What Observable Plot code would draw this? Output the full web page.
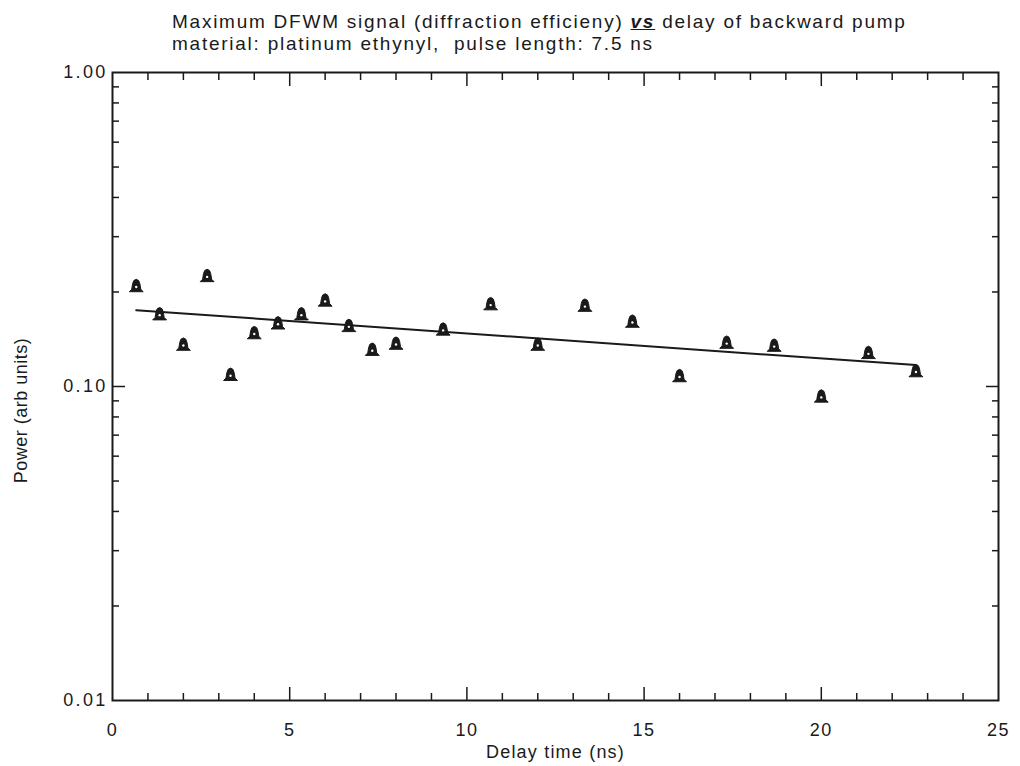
<!DOCTYPE html>
<html>
<head>
<meta charset="utf-8">
<script src="https://cdn.jsdelivr.net/npm/d3@7"></script>
<script src="https://cdn.jsdelivr.net/npm/@observablehq/plot@0.6"></script>
<style>
  html, body { margin: 0; padding: 0; background: #fff; }
  body { width: 1020px; height: 766px; overflow: hidden; font-family: "Liberation Sans", Arial, sans-serif; color: #1a1a1a; }
  #title { height: 56px; box-sizing: border-box; padding: 11px 0 0 172px; font-size: 19px; line-height: 22px; letter-spacing: 1.75px; white-space: nowrap; }
  #title b { font-style: italic; text-decoration: underline; }
  svg { display: block; }
</style>
</head>
<body>
<div id="title">
  <div>Maximum DFWM signal (diffraction efficieny) <b>vs</b> delay of backward pump</div>
  <div>material: platinum ethynyl,&nbsp; pulse length: 7.5 ns</div>
</div>
<div id="chart"></div>
<script>
// Data
const delay = [0.67, 1.33, 2.0, 2.67, 3.33, 4.0, 4.67, 5.33, 6.0, 6.67, 7.33, 8.0, 9.33, 10.67, 12.0, 13.33, 14.67, 16.0, 17.33, 18.67, 20.0, 21.33, 22.67];
const power = [0.209, 0.170, 0.136, 0.225, 0.109, 0.148, 0.159, 0.170, 0.188, 0.156, 0.131, 0.137, 0.152, 0.183, 0.136, 0.181, 0.161, 0.108, 0.138, 0.135, 0.093, 0.128, 0.112];
const fitDelay = [0.67, 22.67];
const fitPower = [0.175, 0.117];

const xTickLabels = [0, 5, 10, 15, 20, 25];
const xMajorTicks = [5, 10, 15, 20];
const xMinorTicks = [1, 2, 3, 4, 6, 7, 8, 9, 11, 12, 13, 14, 16, 17, 18, 19, 21, 22, 23, 24];
const yTickLabels = [0.01, 0.1, 1];
const yMajorTicks = [0.1];
const yMinorTicks = [0.02, 0.03, 0.04, 0.05, 0.06, 0.07, 0.08, 0.09, 0.2, 0.3, 0.4, 0.5, 0.6, 0.7, 0.8, 0.9];
const xTitle = "Delay time (ns)";
const yTitle = "Power (arb units)";

const points = delay.map((d, i) => ({delay: d, power: power[i]}));
const fit = fitDelay.map((d, i) => ({delay: d, power: fitPower[i]}));
const ink = "#1a1a1a";
const blank = () => "";

// bell-shaped marker like the reference's plotted symbol
const bell = {
  draw(context, size) {
    const s = Math.sqrt(size) / 2.2;
    context.moveTo(-1.15 * s, 0.95 * s);
    context.lineTo(1.15 * s, 0.95 * s);
    context.lineTo(0.75 * s, 0.55 * s);
    context.lineTo(0.6 * s, -0.35 * s);
    context.quadraticCurveTo(0.5 * s, -1.05 * s, 0, -1.1 * s);
    context.quadraticCurveTo(-0.5 * s, -1.05 * s, -0.6 * s, -0.35 * s);
    context.lineTo(-0.75 * s, 0.55 * s);
    context.closePath();
  }
};

const chart = Plot.plot({
  width: 1020,
  height: 710,
  marginTop: 16,
  marginBottom: 66,
  marginLeft: 112,
  marginRight: 22,
  style: {fontFamily: "'Liberation Sans', Arial, sans-serif", color: ink, background: "#fff"},
  x: {domain: [0, 25]},
  y: {type: "log", domain: [0.01, 1]},
  marks: [
    // inward ticks
    Plot.axisX(xMinorTicks, {anchor: "bottom", tickSize: -7, tickFormat: blank, label: null, strokeWidth: 1.5}),
    Plot.axisX(xMajorTicks, {anchor: "bottom", tickSize: -13, tickFormat: blank, label: null, strokeWidth: 1.5}),
    Plot.axisX(xMinorTicks, {anchor: "top", tickSize: -7, tickFormat: blank, label: null, strokeWidth: 1.5}),
    Plot.axisX(xMajorTicks, {anchor: "top", tickSize: -13, tickFormat: blank, label: null, strokeWidth: 1.5}),
    Plot.axisY(yMinorTicks, {anchor: "left", tickSize: -7, tickFormat: blank, label: null, strokeWidth: 1.5}),
    Plot.axisY(yMajorTicks, {anchor: "left", tickSize: -13, tickFormat: blank, label: null, strokeWidth: 1.5}),
    Plot.axisY(yMinorTicks, {anchor: "right", tickSize: -7, tickFormat: blank, label: null, strokeWidth: 1.5}),
    Plot.axisY(yMajorTicks, {anchor: "right", tickSize: -13, tickFormat: blank, label: null, strokeWidth: 1.5}),
    // tick labels
    Plot.axisX(xTickLabels, {anchor: "bottom", tickSize: 0, tickPadding: 23, label: null, fontSize: 18, tickFormat: d => String(d)}),
    Plot.axisY(yTickLabels, {anchor: "left", tickSize: 0, tickPadding: 5, label: null, fontSize: 18, tickFormat: d3.format(".2f")}),
    // axis titles
    Plot.text([xTitle], {frameAnchor: "bottom", dy: 57, text: d => d, fontSize: 18, fill: ink}),
    Plot.text([yTitle], {frameAnchor: "left", dx: -91, dy: 24, rotate: -90, textAnchor: "middle", text: d => d, fontSize: 18, fill: ink}),
    // frame
    Plot.frame({stroke: ink, strokeWidth: 2}),
    // fit line
    Plot.line(fit, {x: "delay", y: "power", stroke: ink, strokeWidth: 2}),
    // data markers
    Plot.dot(points, {x: "delay", y: "power", symbol: bell, r: 7.5, fill: ink, stroke: ink, strokeWidth: 1, strokeLinejoin: "round"}),
    Plot.dot(points, {x: "delay", y: "power", r: 1.2, fill: "#fff", dy: 1})
  ]
});
// widen the lettering to match the stretched scan
const svg = d3.select(chart);
svg.selectAll('g[aria-label="y-axis tick label"]').attr("font-size", 18).style("letter-spacing", "2.3px");
svg.selectAll('g[aria-label="x-axis tick label"]').attr("font-size", 18).style("letter-spacing", "1.5px");
svg.selectAll('g[aria-label="text"] text').each(function () {
  const t = d3.select(this).text();
  d3.select(this).style("letter-spacing", t === xTitle ? "1.2px" : "0.5px");
});
document.getElementById("chart").appendChild(chart);
</script>
</body>
</html>
